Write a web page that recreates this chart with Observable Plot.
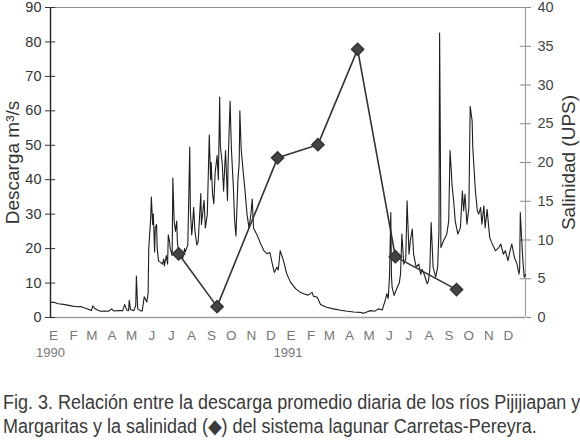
<!DOCTYPE html>
<html>
<head>
<meta charset="utf-8">
<script src="https://cdn.jsdelivr.net/npm/d3@7"></script>
<script src="https://cdn.jsdelivr.net/npm/@observablehq/plot@0.6"></script>
<style>
  body { margin: 0; background: #fff; }
  #chart svg { overflow: visible; }
  .caption { font-family: "Liberation Sans Narrow", "Liberation Sans", sans-serif; font-size: 20px; line-height: 24px; color: #3a3a3a; margin: 28px 0 0 3px; white-space: nowrap; transform: scaleX(0.9); transform-origin: left top; }
</style>
</head>
<body>
<div id="chart"></div>
<div class="caption">Fig. 3. Relación entre la descarga promedio diaria de los ríos Pijijiapan y<br>Margaritas y la salinidad (◆) del sistema lagunar Carretas-Pereyra.</div>
<script>
const monthLetters = ["E","F","M","A","M","J","J","A","S","O","N","D"];
const yearLabels = ["1990", "1991"];
const leftTicks = [0, 10, 20, 30, 40, 50, 60, 70, 80, 90];
const rightTicks = [0, 5, 10, 15, 20, 25, 30, 35, 40];

// daily discharge (m3/s), day offset from 1990-01-01
const dischargeDay = [0,5,12,20,26,34,41,46,52,58,63,65,68,72,77,83,89,94,97,104,111,114,117,120,121,123,128,131,132,134,138,141,144,148,150,151,154,155,157,158,160,161,163,164,166,169,172,174,175,178,180,181,183,184,187,188,190,192,194,195,197,200,203,206,207,211,212,214,215,217,218,220,222,225,227,231,232,236,238,241,244,246,247,249,251,253,256,258,260,261,264,266,269,272,273,276,278,281,283,285,288,290,291,293,296,299,302,305,308,310,312,318,323,328,333,337,341,344,348,350,353,358,363,369,377,384,389,396,402,404,410,415,424,435,446,456,466,476,481,486,492,498,504,510,515,517,519,521,523,524,525,528,533,536,538,540,543,546,548,551,553,556,558,562,566,569,571,574,579,581,583,585,588,592,595,597,598,599,600,604,609,612,614,616,617,620,622,626,630,633,635,637,640,643,645,648,649,653,656,658,661,663,666,668,671,675,679,684,689,692,696,699,703,707,709,713,717,720,721,722,724,726,728,730];
const dischargeValue = [4.5,4.4,4.0,3.8,3.6,3.3,3.1,3.2,2.8,2.4,2.0,3.4,2.6,2.2,1.8,1.9,1.8,2.5,1.9,2.0,2.0,3.8,2.2,2.0,5.0,2.3,2.0,3.5,12.0,2.5,2.0,1.9,6.0,4.5,7,20,29,35,27,30,19,26,27,20,16.5,16,15.5,17,15,18,15.5,24,22,20,18,40.5,28,25,28,22,18.5,19,17,20,19,21,30,49.5,31,24,26,32,25,21,22,36,27,34,26,30,53,40,45,36,33,42,47,40,64,50,44.5,36.7,48.5,34,45,62.8,49,38,28,23.7,39.6,45,60,49,42.5,36.7,30,26,30,34.4,26,23.7,21.4,19.4,18.5,18.9,15.5,13.1,14.6,13.8,19.4,16.5,12.7,10.2,8.3,7.3,6.9,6.5,7.3,6.2,5.9,3.8,3.0,2.5,2.1,1.8,1.6,1.5,1.2,1.6,2.0,1.8,2.5,2.2,5.4,6.9,5.5,12,30.5,12,8.8,6.4,8.8,10,12.7,24.2,15.5,17,33.9,18.4,22.3,25.7,18.4,14.6,15.5,12.5,14,12.7,9.8,10.7,14,27.6,14.6,11.7,14.6,25,82.6,55,20.3,22.3,24.2,28,48.5,42.5,38.7,32.9,28,24.2,26.1,36.7,31,35.8,27.1,31.9,61.3,57,49.3,36.7,31,30,31.9,27.1,32.4,26.1,31.4,23.2,21.3,19.4,20.3,21.3,18.4,19.4,16.5,19.9,21.3,17.4,15.5,12.6,14,30.5,23.2,16.5,11.7,12.5];

// salinity (UPS), day offset from 1990-01-01
const salinityDay = [197, 256, 349, 411, 472, 530, 624];
const salinityValue = [8.2, 1.4, 20.6, 22.3, 34.6, 7.85, 3.6];

const t0 = new Date(Date.UTC(1990, 0, 1));
const t1 = new Date(Date.UTC(1992, 0, 1));
const toDate = (d) => d3.utcDay.offset(t0, d);
const k = 90 / 40;

const discharge = dischargeDay.map((d, i) => ({date: toDate(d), q: dischargeValue[i]}));
const salinity = salinityDay.map((d, i) => ({date: toDate(d), s: salinityValue[i]}));
const months = d3.utcMonths(t0, t1);
const years = yearLabels.map(y => new Date(Date.UTC(+y, 0, 1)));

const font = "Liberation Sans, Arial, sans-serif";

const plot = Plot.plot({
  width: 580,
  height: 362,
  marginLeft: 50,
  marginRight: 55,
  marginTop: 7,
  marginBottom: 45,
  style: {fontFamily: font, background: "white", overflow: "visible"},
  x: {type: "utc", domain: [t0, t1]},
  y: {domain: [0, 90]},
  marks: [
    Plot.ruleY([0], {stroke: "#a0a0a0", strokeWidth: 1.3}),
    Plot.ruleY([90], {stroke: "#909090", strokeWidth: 1.2}),
    Plot.ruleX([t1], {stroke: "#a0a0a0", strokeWidth: 1.2}),
    Plot.ruleX([t0], {stroke: "#222", strokeWidth: 1.4}),
    // inward tick halves
    Plot.ruleY(leftTicks, {y: d => d, x1: () => t0, x2: () => toDate(8), stroke: "#333"}),
    Plot.ruleY(rightTicks, {y: d => d * k, x1: () => toDate(722), x2: () => t1, stroke: "#888"}),
    Plot.axisY(leftTicks, {anchor: "left", tickSize: 5, tickPadding: 4, fontSize: 14.5, fill: "#333", stroke: "#333", label: null}),
    Plot.axisY(rightTicks.map(v => v * k), {anchor: "right", tickSize: 5, tickPadding: 7, fontSize: 14.5, fill: "#444", stroke: "#888", tickFormat: d => Math.round(d / k), label: null}),
    Plot.axisX(months, {anchor: "bottom", tickSize: 0, tickPadding: 13, fontSize: 13.5, fill: "#777", dx: 3, tickFormat: d => monthLetters[d.getUTCMonth()], label: null}),
    Plot.axisX(years, {anchor: "bottom", tickSize: 0, tickPadding: 30, fontSize: 13, fill: "#777", tickFormat: d => String(d.getUTCFullYear()), label: null}),
    Plot.text(["Descarga m³/s"], {frameAnchor: "left", dx: -38, rotate: -90, textAnchor: "middle", fontSize: 19, fill: "#333", text: d => d}),
    Plot.text(["Salinidad (UPS)"], {frameAnchor: "right", dx: 43, rotate: -90, textAnchor: "middle", fontSize: 19, fill: "#333", text: d => d}),
    Plot.line(discharge, {x: "date", y: "q", stroke: "#1e1e1e", strokeWidth: 1.1}),
    Plot.line(salinity, {x: "date", y: d => d.s * k, stroke: "#333", strokeWidth: 1.6}),
    Plot.dot(salinity, {x: "date", y: d => d.s * k, symbol: "diamond2", r: 5.5, fill: "#444", stroke: "#333"})
  ]
});
document.getElementById("chart").appendChild(plot);
</script>
</body>
</html>
